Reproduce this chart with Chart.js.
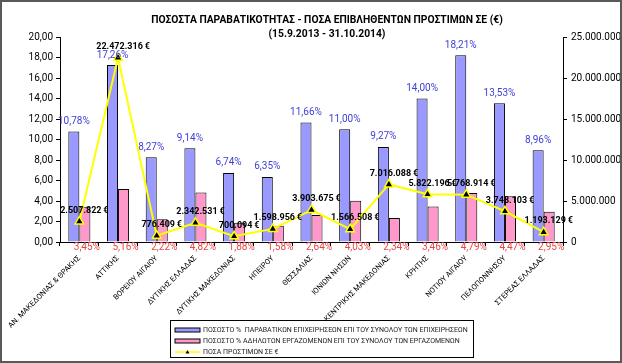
<!DOCTYPE html>
<html>
<head>
<meta charset="utf-8">
<script src="https://cdn.jsdelivr.net/npm/chart.js@4"></script>
<style>
html,body{margin:0;padding:0;background:#fff}
#wrap{width:618px;height:359px;border:2px solid #595959;background:#fff}
canvas{display:block}
</style>
</head>
<body>
<div id="wrap"><canvas id="chart" width="618" height="359"></canvas></div>
<script>
//-----------------Data
const regions = ['ΑΝ. ΜΑΚΕΔΟΝΙΑΣ & ΘΡΑΚΗΣ','ΑΤΤΙΚΗΣ','ΒΟΡΕΙΟΥ ΑΙΓΑΙΟΥ','ΔΥΤΙΚΗΣ ΕΛΛΑΔΑΣ','ΔΥΤΙΚΗΣ ΜΑΚΕΔΟΝΙΑΣ','ΗΠΕΙΡΟΥ','ΘΕΣΣΑΛΙΑΣ','ΙΟΝΙΩΝ ΝΗΣΩΝ','ΚΕΝΤΡΙΚΗΣ ΜΑΚΕΔΟΝΙΑΣ','ΚΡΗΤΗΣ','ΝΟΤΙΟΥ ΑΙΓΑΙΟΥ','ΠΕΛΟΠΟΝΝΗΣΟΥ','ΣΤΕΡΕΑΣ ΕΛΛΑΔΑΣ']
const pctBusinesses = [10.78, 17.26, 8.27, 9.14, 6.74, 6.35, 11.66, 11.00, 9.27, 14.00, 18.21, 13.53, 8.96]
const pctUndeclared = [3.45, 5.16, 2.22, 4.82, 1.88, 1.58, 2.64, 4.03, 2.34, 3.46, 4.79, 4.47, 2.95]
const fines = [2507822, 22472316, 776409, 2342531, 700094, 1598956, 3903675, 1566508, 7016088, 5822196, 5768914, 3748103, 1193129]
const leftTicks = {min: 0, max: 20, step: 2}
const rightTicks = {min: 0, max: 25000000, step: 5000000}
const titleLines = ['ΠΟΣΟΣΤΑ ΠΑΡΑΒΑΤΙΚΟΤΗΤΑΣ - ΠΟΣΑ ΕΠΙΒΛΗΘΕΝΤΩΝ ΠΡΟΣΤΙΜΩΝ ΣΕ (€)', '(15.9.2013 - 31.10.2014)']
const seriesNames = ['ΠΟΣΟΣΤΟ %  ΠΑΡΑΒΑΤΙΚΩΝ ΕΠΙΧΕΙΡΗΣΕΩΝ ΕΠΙ ΤΟΥ ΣΥΝΟΛΟΥ ΤΩΝ ΕΠΙΧΕΙΡΗΣΕΩΝ', 'ΠΟΣΟΣΤΟ % ΑΔΗΛΩΤΩΝ ΕΡΓΑΖΟΜΕΝΩΝ ΕΠΙ ΤΟΥ ΣΥΝΟΛΟΥ ΤΩΝ ΕΡΓΑΖΟΜΕΝΩΝ', 'ΠΟΣΑ ΠΡΟΣΤΙΜΩΝ ΣΕ €']

const FONT = 'Roboto, "Noto Sans", sans-serif'

//-----------------Formatting
function grNum(v){ return Math.round(v).toString().replace(/\B(?=(\d{3})+(?!\d))/g, '.') }
function grPct(v){ return Number(v).toFixed(2).replace('.', ',') }

//-----------------Plugins
const shiftTitle = {
  id: 'shiftTitle',
  afterLayout(chart){
    const t = chart.titleBlock
    if (t){ t.left += 16; t.right += 16 }
  }
}

const valueLabels = {
  id: 'valueLabels',
  afterDraw(chart){
    const ctx = chart.ctx
    const area = chart.chartArea
    ctx.save()
    ctx.textAlign = 'center'
    ctx.textBaseline = 'middle'
    // blue % above bars
    ctx.font = '10px ' + FONT
    ctx.fillStyle = '#4040D8'
    chart.getDatasetMeta(0).data.forEach((el, i) => {
      ctx.fillText(grPct(pctBusinesses[i]) + '%', el.x, el.y - 10)
    })
    // red % under axis
    ctx.fillStyle = '#EA4545'
    chart.getDatasetMeta(1).data.forEach((el, i) => {
      ctx.fillText(grPct(pctUndeclared[i]) + '%', el.x + 2, area.bottom + 5)
    })
    // fines labels
    ctx.font = 'bold 9px ' + FONT
    ctx.fillStyle = '#000'
    chart.getDatasetMeta(2).data.forEach((el, i) => {
      ctx.fillText(grNum(fines[i]) + '\u2009€', el.x + 5, el.y - 11)
    })
    ctx.restore()
  }
}

const boxLegend = {
  id: 'boxLegend',
  afterDraw(chart){
    const ctx = chart.ctx
    const x = 168, y = 318, w = 303, h = 37
    ctx.save()
    ctx.fillStyle = '#fff'
    ctx.fillRect(x, y, w, h)
    ctx.strokeStyle = '#000'
    ctx.lineWidth = 1
    ctx.strokeRect(x + 0.5, y + 0.5, w, h)
    chart.data.datasets.forEach((ds, i) => {
      const cy = y + 10 + i * 11
      if (ds.type === 'line'){
        ctx.strokeStyle = ds.borderColor
        ctx.lineWidth = 1.5
        ctx.beginPath(); ctx.moveTo(x + 5, cy); ctx.lineTo(x + 30, cy); ctx.stroke()
        ctx.fillStyle = '#000'
        ctx.beginPath(); ctx.moveTo(x + 17.5, cy - 2); ctx.lineTo(x + 19.5, cy + 1.5); ctx.lineTo(x + 15.5, cy + 1.5); ctx.closePath(); ctx.fill()
      } else {
        ctx.fillStyle = ds.backgroundColor
        ctx.fillRect(x + 5, cy - 2, 25, 4)
        ctx.strokeStyle = '#000'
        ctx.lineWidth = 1
        ctx.strokeRect(x + 5, cy - 2, 25, 4)
      }
      ctx.fillStyle = '#222'
      ctx.font = '7px ' + FONT
      ctx.textBaseline = 'middle'
      ctx.textAlign = 'left'
      ctx.fillText(ds.label, x + 33, cy)
    })
    ctx.restore()
  }
}

//-----------------Chart
const ctx = document.getElementById('chart').getContext('2d')
const chart = new Chart(ctx, {
  data: {
    labels: regions,
    datasets: [
      {type: 'bar', label: seriesNames[0], data: pctBusinesses, yAxisID: 'y', order: 1,
       backgroundColor: '#9999FF', borderColor: '#000', borderWidth: 1,
       categoryPercentage: 0.57, barPercentage: 1.0},
      {type: 'bar', label: seriesNames[1], data: pctUndeclared, yAxisID: 'y', order: 2,
       backgroundColor: '#FF99CC', borderColor: '#000', borderWidth: 1,
       categoryPercentage: 0.57, barPercentage: 1.0},
      {type: 'line', label: seriesNames[2], data: fines, yAxisID: 'y1', order: 0,
       borderColor: '#FFFF00', borderWidth: 2, tension: 0, fill: false,
       pointStyle: 'triangle', pointRadius: 5, pointBackgroundColor: '#000',
       pointBorderColor: '#FFFF00', pointBorderWidth: 1.5}
    ]
  },
  options: {
    responsive: false,
    animation: false,
    events: [],
    layout: {padding: 0},
    plugins: {
      legend: {display: false},
      tooltip: {enabled: false},
      title: {
        display: true,
        text: titleLines,
        color: '#000',
        font: {family: FONT, size: 10.3, weight: 'bold', lineHeight: '14px'},
        padding: {top: 11, bottom: -4}
      }
    },
    scales: {
      x: {
        grid: {drawOnChartArea: false, drawTicks: true, tickLength: 4, color: '#000'},
        border: {display: true, color: '#000'},
        ticks: {autoSkip: false, maxRotation: 45, minRotation: 45, padding: 8, color: '#000',
                font: {family: FONT, size: 7.5}},
        afterFit(s){ s.paddingLeft = 0; s.paddingRight = 0; s.height = 119 }
      },
      y: {
        position: 'left',
        min: leftTicks.min, max: leftTicks.max,
        grid: {drawOnChartArea: false, tickLength: 4, color: '#000'},
        border: {display: true, color: '#000'},
        ticks: {stepSize: leftTicks.step, padding: 3, color: '#000',
                font: {family: FONT, size: 10}, callback: v => grPct(v)},
        afterFit(s){ s.width = 58 }
      },
      y1: {
        position: 'right',
        min: rightTicks.min, max: rightTicks.max,
        grid: {drawOnChartArea: false, tickLength: 4, color: '#000'},
        border: {display: true, color: '#000'},
        ticks: {stepSize: rightTicks.step, padding: 4, color: '#000',
                font: {family: FONT, size: 10}, callback: v => grNum(v)},
        afterFit(s){ s.width = 57 }
      }
    }
  },
  plugins: [shiftTitle, valueLabels, boxLegend]
})
</script>
</body>
</html>
